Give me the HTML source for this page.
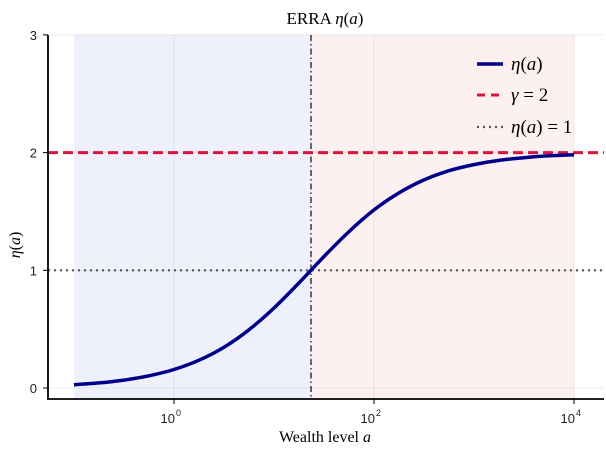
<!DOCTYPE html>
<html><head><meta charset="utf-8"><style>
body{margin:0;background:#fff}
svg text{font-family:"Liberation Serif",serif}
.tk{font-family:"Liberation Sans",sans-serif;font-size:13px;fill:#222}
</style></head><body>
<svg id="chart" width="606" height="447"></svg>
<script>
const logA=[-1,-0.75,-0.5,-0.25,0,0.25,0.5,0.75,1,1.25,1.5,1.75,2,2.25,2.5,2.75,3,3.25,3.5,3.75,4];
const etaVals=[0.028,0.043,0.067,0.104,0.157,0.236,0.347,0.495,0.68,0.893,1.117,1.329,1.513,1.658,1.768,1.846,1.898,1.934,1.957,1.973,1.982];
const gammaVal=2;
const refVal=1;
const threshLog=1.37;
const xTickLogs=[0,2,4];
const yTicks=[0,1,2,3];
const NS="http://www.w3.org/2000/svg";
const svg=document.getElementById('chart');
const X=l=>174+100*l, Y=v=>388-117.7*v;
const L=48,R=604,T=35,B=399;
function mk(t,a,p){const e=document.createElementNS(NS,t);for(const k in a)e.setAttribute(k,a[k]);(p||svg).appendChild(e);return e;}
let e;
e=mk('rect',{x:X(-1),y:T,width:X(threshLog)-X(-1),height:B-T,fill:'#eef0fc'});


e=mk('rect',{x:X(threshLog),y:T,width:X(4)-X(threshLog),height:B-T,fill:'#fdf0f0'});


xTickLogs.forEach(l=>{e=mk('line',{x1:X(l),x2:X(l),y1:T,y2:B,stroke:'#000','stroke-opacity':0.07});

});
yTicks.forEach(v=>{e=mk('line',{x1:L,x2:R,y1:Y(v),y2:Y(v),stroke:'#000','stroke-opacity':0.07});

});
e=mk('line',{x1:X(threshLog),x2:X(threshLog),y1:T,y2:B,stroke:'#555','stroke-width':1.8,'stroke-dasharray':'6,3,1.5,3'});


e=mk('line',{x1:L,x2:R,y1:Y(gammaVal),y2:Y(gammaVal),stroke:'#dc143c','stroke-width':3,'stroke-dasharray':'10,5'});


e=mk('line',{x1:L,x2:R,y1:Y(refVal),y2:Y(refVal),stroke:'#555','stroke-width':2.2,'stroke-dasharray':'2,4'});


const pts=logA.map((l,i)=>[X(l),Y(etaVals[i])]);
let d='M'+pts[0][0].toFixed(1)+','+pts[0][1].toFixed(1);
for(let i=0;i<pts.length-1;i++){const p0=pts[Math.max(0,i-1)],p1=pts[i],p2=pts[i+1],p3=pts[Math.min(pts.length-1,i+2)];
const c1=[p1[0]+(p2[0]-p0[0])/6,p1[1]+(p2[1]-p0[1])/6],c2=[p2[0]-(p3[0]-p1[0])/6,p2[1]-(p3[1]-p1[1])/6];
d+=`C${c1[0].toFixed(1)},${c1[1].toFixed(1)} ${c2[0].toFixed(1)},${c2[1].toFixed(1)} ${p2[0].toFixed(1)},${p2[1].toFixed(1)}`;}
e=mk('path',{d:d,fill:'none',stroke:'#00008b','stroke-width':3.5,'stroke-linejoin':'round'});


e=mk('path',{d:`M${L},${T}V${B}H${R}`,fill:'none',stroke:'#000','stroke-width':1.8});


xTickLogs.forEach(l=>{e=mk('line',{x1:X(l),x2:X(l),y1:B,y2:B+5,stroke:'#000'});


const t=mk('text',{x:X(l)+1,y:B+24,'text-anchor':'end',class:'tk'});t.textContent='10';


const s=mk('text',{x:X(l)+2,y:B+17,class:'tk'});s.style.fontSize='9px';s.textContent=String(l);

});
yTicks.forEach(v=>{e=mk('line',{x1:L-5,x2:L,y1:Y(v),y2:Y(v),stroke:'#000'});


const t=mk('text',{x:L-11,y:Y(v)+5,'text-anchor':'end',class:'tk'});t.textContent=v;

});
</script>
<svg width="606" height="447" style="position:absolute;left:0;top:0">
<text x="325" y="24" text-anchor="middle" font-size="17">ERRA <tspan font-style="italic">η</tspan>(<tspan font-style="italic">a</tspan>)</text>
<text x="325" y="442" text-anchor="middle" font-size="16">Wealth level <tspan font-style="italic">a</tspan></text>
<text transform="translate(20,245) rotate(-90)" text-anchor="middle" font-size="16"><tspan font-style="italic">η</tspan>(<tspan font-style="italic">a</tspan>)</text>
<g>
<line x1="477" x2="503" y1="64" y2="64" stroke="#00008b" stroke-width="3.5"/>
<text x="511" y="70" font-size="19"><tspan font-style="italic">η</tspan>(<tspan font-style="italic">a</tspan>)</text>
<line x1="477" x2="503" y1="95" y2="95" stroke="#dc143c" stroke-width="3" stroke-dasharray="8,6"/>
<text x="511" y="101" font-size="19"><tspan font-style="italic">γ</tspan> = 2</text>
<line x1="477" x2="503" y1="127" y2="127" stroke="#555" stroke-width="2.2" stroke-dasharray="2,4"/>
<text x="511" y="133" font-size="19"><tspan font-style="italic">η</tspan>(<tspan font-style="italic">a</tspan>) = 1</text>
</g>
</svg>
</body></html>
